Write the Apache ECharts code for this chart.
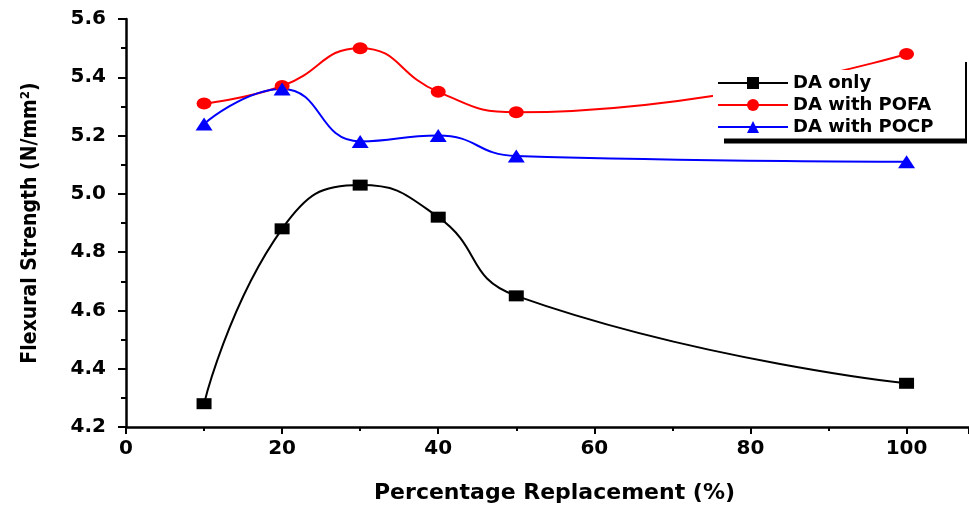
<!DOCTYPE html>
<html>
<head>
    <meta charset="utf-8">
    <title>Flexural Strength</title>
    <script src="https://cdn.jsdelivr.net/npm/echarts@6/dist/echarts.min.js"></script>
    <style>
        html, body { margin: 0; padding: 0; background: #fff; }
        #main { width: 969px; height: 509px; }
    </style>
</head>
<body>
    <div id="main"></div>
    <script>
        // percentage replacement
        const xValues = [10, 20, 30, 40, 50, 100];
        const daOnly = [4.28, 4.88, 5.03, 4.92, 4.65, 4.35];
        const daPofa = [5.31, 5.37, 5.50, 5.35, 5.28, 5.48];
        const daPocp = [5.24, 5.36, 5.18, 5.20, 5.13, 5.11];

        const seriesNames = ['DA only', 'DA with POFA', 'DA with POCP'];

        var chart = echarts.init(document.getElementById('main'));

        const pairs = vals => xValues.map((x, i) => [x, vals[i]]);
        const labelFont = { color: '#000', fontFamily: 'DejaVu Sans', fontWeight: 'bold', fontSize: 20 };

        function lineSeries(name, vals, color, symbol, size) {
            return {
                name: name,
                type: 'line',
                data: pairs(vals),
                smooth: 0.5,
                symbol: symbol,
                symbolSize: size,
                lineStyle: { color: color, width: 2 },
                itemStyle: { color: color }
            };
        }

        const option = {
            animation: false,
            grid: { left: 126, right: 0, top: 19, bottom: 78 },
            xAxis: {
                type: 'value',
                min: 0,
                max: 108,
                interval: 20,
                name: 'Percentage Replacement (%)',
                nameLocation: 'middle',
                nameGap: 55,
                nameTextStyle: { color: '#000', fontFamily: 'DejaVu Sans', fontWeight: 'bold', fontSize: 22, padding: [0, 0, 0, 14] },
                axisLine: { lineStyle: { color: '#000', width: 2.5 } },
                axisTick: { length: 7, lineStyle: { color: '#000', width: 2 } },
                minorTick: { show: true, splitNumber: 2, length: 4, lineStyle: { color: '#000', width: 2 } },
                axisLabel: Object.assign({ margin: 12, showMaxLabel: false }, labelFont),
                splitLine: { show: false }
            },
            yAxis: {
                type: 'value',
                min: 4.2,
                max: 5.6,
                interval: 0.2,
                name: 'Flexural Strength (N/mm²)',
                nameLocation: 'middle',
                nameGap: 85,
                nameTextStyle: { color: '#000', fontFamily: 'DejaVu Sans Condensed', fontWeight: 'bold', fontSize: 21 },
                axisLine: { show: true, lineStyle: { color: '#000', width: 2.5 } },
                axisTick: { show: true, length: 8, lineStyle: { color: '#000', width: 2 } },
                minorTick: { show: true, splitNumber: 2, length: 5, lineStyle: { color: '#000', width: 2 } },
                axisLabel: Object.assign({ margin: 20, formatter: v => v.toFixed(1) }, labelFont),
                splitLine: { show: false }
            },
            legend: {
                data: seriesNames,
                orient: 'vertical',
                left: 713,
                top: 70,
                padding: [4, 4, 4, 4],
                backgroundColor: '#fff',
                itemWidth: 70,
                itemHeight: 15,
                itemGap: 4,
                textStyle: { color: '#000', fontFamily: 'DejaVu Sans', fontWeight: 'bold', fontSize: 18 }
            },
            graphic: [
                { type: 'line', z: 100, shape: { x1: 724, y1: 141, x2: 967, y2: 141 }, style: { stroke: '#000', lineWidth: 5 } },
                { type: 'line', z: 100, shape: { x1: 966, y1: 62, x2: 966, y2: 141 }, style: { stroke: '#000', lineWidth: 2 } }
            ],
            series: [
                lineSeries(seriesNames[0], daOnly, '#000', 'rect', [15, 11]),
                lineSeries(seriesNames[1], daPofa, '#ff0000', 'circle', [15, 12]),
                lineSeries(seriesNames[2], daPocp, '#0000ff', 'triangle', [17, 13])
            ]
        };

        chart.setOption(option);
        window.addEventListener('resize', function () {
            chart.resize();
        });
    </script>
</body>
</html>
